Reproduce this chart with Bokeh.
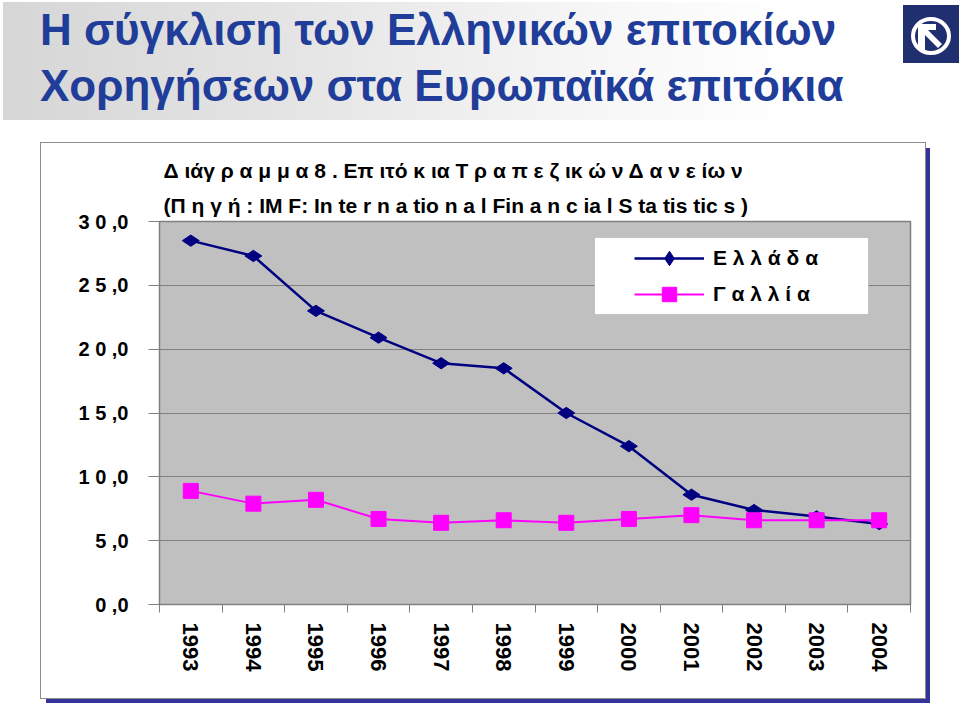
import numpy as np
from bokeh.plotting import figure
from bokeh.layouts import column
from bokeh.models import (Range1d, LinearAxis, FixedTicker, Title, Div,
                          BoxAnnotation, Legend, LegendItem, Grid)
from bokeh.embed import file_html
from bokeh.resources import INLINE

# ---------------- data ----------------
years = ["1993", "1994", "1995", "1996", "1997", "1998",
         "1999", "2000", "2001", "2002", "2003", "2004"]
greece = [28.5, 27.3, 23.0, 20.9, 18.9, 18.5, 15.0, 12.4, 8.6, 7.4, 6.9, 6.3]
france = [8.9, 7.9, 8.2, 6.7, 6.4, 6.6, 6.4, 6.7, 7.0, 6.6, 6.6, 6.6]
y_ticks = [0, 5, 10, 15, 20, 25, 30]
y_tick_labels = ["0 ,0", "5 ,0", "1 0 ,0", "1 5 ,0", "2 0 ,0", "2 5 ,0", "3 0 ,0"]
series_names = ["Ε λ λ ά δ α", "Γ α λ λ ί α"]
banner_lines = ["Η σύγκλιση των Ελληνικών επιτοκίων", "Χορηγήσεων στα Ευρωπαϊκά επιτόκια"]
chart_title = ["Δ ιάγ ρ α μ μ α 8 . Επ ιτό κ ια Τ ρ α π ε ζ ικ ώ ν Δ α ν ε ίω ν",
               "(Π η γ ή : IM F: In te r n a tio n a l Fin a n c ia l S ta tis tic s )"]

# category positions (index of each year) and category boundaries
xpos = list(range(len(years)))
xbounds = [i - 0.5 for i in range(len(years) + 1)]

# ---------------- layout constants (page pixels) ----------------
W, H = 960, 705
BANNER_H = 125
BOX_L, BOX_R, BOX_T, BOX_B = 41, 925, 143, 698
FL, FR, FT, FB = 159, 910, 221, 604
FONT = "Liberation Sans"


def sx(X):
    return X - FL


def sy(Y):
    return FB - Y


# ---------------- banner (HTML) ----------------
logo_svg = (
    '<svg style="position:absolute;left:903px;top:5px" width="56" height="58" '
    'xmlns="http://www.w3.org/2000/svg">'
    '<rect width="56" height="58" fill="#1f2f6f"/>'
    '<ellipse cx="28" cy="31" rx="18" ry="17" fill="none" stroke="white" stroke-width="4"/>'
    '<path d="M15 19 L33 19 L33 25 L25 25 L39 39 L35 43 L22 30 L22 45 L15 45 Z" fill="white"/>'
    '</svg>'
)
banner_html = (
    f'<div style="position:relative;width:{W}px;height:{BANNER_H}px;margin:0;padding:0;">'
    '<div style="position:absolute;left:3px;top:2px;width:897px;height:118px;'
    'background:linear-gradient(to right,#d6d6d6 0%,#e6e6e6 35%,#f6f6f6 65%,#ffffff 88%);"></div>'
    f'<div style="position:absolute;left:40px;top:2px;white-space:nowrap;'
    f'font-family:\'{FONT}\';font-weight:bold;font-size:44px;line-height:56px;color:#1f3d99;">'
    f'{banner_lines[0]}<br>{banner_lines[1]}</div>'
    f'{logo_svg}</div>'
)
banner = Div(text=banner_html, width=W, height=BANNER_H, margin=0)

# ---------------- chart ----------------
CW, CH = BOX_R - BOX_L, BOX_B - BOX_T
p = figure(width=CW, height=CH, x_range=Range1d(-0.5, len(years) - 0.5), y_range=Range1d(0, 30),
           output_backend="svg", toolbar_location=None,
           x_axis_location=None, y_axis_location=None,
           min_border_left=FL - BOX_L, min_border_right=BOX_R - FR,
           min_border_top=FT - BOX_T, min_border_bottom=BOX_B - FB,
           background_fill_color="#c0c0c0", border_fill_color="white",
           outline_line_color="#808080", outline_line_width=1.5,
           margin=(BOX_T - BANNER_H, 0, 7, BOX_L),
           styles={"box-shadow": "5px 5px 0px 0px #333399",
                   "outline": "1.5px solid #8c8c8c"})
p.xgrid.visible = False
p.ygrid.visible = False

yaxis = LinearAxis(ticker=FixedTicker(ticks=y_ticks),
                   major_label_overrides=dict(zip(y_ticks, y_tick_labels)),
                   major_tick_out=11, major_tick_in=0, minor_tick_line_color=None,
                   major_tick_line_color="#808080", axis_line_color="#808080",
                   major_label_standoff=20, major_label_text_font=FONT,
                   major_label_text_font_style="bold", major_label_text_font_size="20px",
                   major_label_text_color="black")
p.add_layout(yaxis, "left")
p.add_layout(Grid(dimension=1, ticker=yaxis.ticker, grid_line_color="#808080", grid_line_width=1))

xaxis = LinearAxis(ticker=FixedTicker(ticks=xpos, minor_ticks=xbounds),
                   major_label_overrides=dict(zip(xpos, years)),
                   major_tick_out=0, major_tick_in=0, major_tick_line_color=None,
                   minor_tick_out=8, minor_tick_in=0, minor_tick_line_color="#808080",
                   axis_line_color="#808080", major_label_orientation=-np.pi / 2,
                   major_label_standoff=10, major_label_text_font=FONT,
                   major_label_text_font_style="bold", major_label_text_font_size="22px",
                   major_label_text_color="black")
p.add_layout(xaxis, "below")

p.add_layout(Title(text="\n".join(chart_title), align="left", offset=4, standoff=8,
                   text_font=FONT, text_font_style="bold", text_font_size="21px",
                   text_color="black", text_line_height=1.55), "above")

gl = p.line(xpos, greece, line_color="#000080", line_width=2.5)
gs = p.scatter(xpos, greece, marker="diamond", size=17, angle=np.pi / 2,
               fill_color="#000080", line_color="#000080")
fl = p.line(xpos, france, line_color="#ff00ff", line_width=2)
fs = p.scatter(xpos, france, marker="square", size=15, fill_color="#ff00ff", line_color="#ff00ff")

p.add_layout(BoxAnnotation(left=sx(594), right=sx(868), top=sy(237), bottom=sy(314),
                           left_units="screen", right_units="screen", top_units="screen",
                           bottom_units="screen", fill_color="white", fill_alpha=1,
                           line_color="#808080", line_width=1))
legend = Legend(items=[LegendItem(label=series_names[0], renderers=[gl, gs]),
                       LegendItem(label=series_names[1], renderers=[fl, fs])],
                location=(sx(634), sy(312)), padding=0, margin=0, spacing=0,
                glyph_width=70, glyph_height=36, label_height=36, label_standoff=9,
                background_fill_alpha=0, border_line_color=None,
                label_text_font=FONT, label_text_font_style="bold",
                label_text_font_size="21px", label_text_color="black")
p.add_layout(legend, "center")

layout = column(banner, p, spacing=0)
open("out.html", "w").write(file_html(layout, INLINE))
